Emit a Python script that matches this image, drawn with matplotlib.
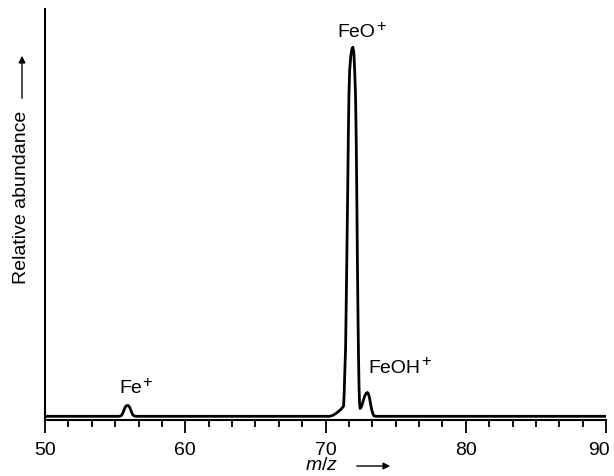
import matplotlib
matplotlib.use("Agg")
import matplotlib.pyplot as plt
from matplotlib.ticker import MultipleLocator
from matplotlib.transforms import ScaledTranslation

plt.rcParams['font.family'] = ['Liberation Sans', 'DejaVu Sans']
plt.rcParams['mathtext.fontset'] = 'custom'
plt.rcParams['mathtext.rm'] = 'Liberation Sans'
plt.rcParams['mathtext.it'] = 'Liberation Sans:italic'

# spectrum (m/z, relative abundance on a 0-100 axis)
mz = [50.0, 55.3, 55.45, 55.55, 55.65, 55.75, 55.85, 55.95, 56.05, 56.15, 56.25, 56.35, 56.5,
      70.3, 70.5, 70.7, 70.9, 71.1, 71.2, 71.29, 71.33, 71.37, 71.43, 71.48, 71.53, 71.59,
      71.63, 71.67, 71.72, 71.8, 71.88, 71.95, 72.02, 72.08, 72.14, 72.19, 72.23, 72.27,
      72.31, 72.35, 72.39, 72.43, 72.47, 72.52, 72.6, 72.7, 72.8, 72.9, 72.98, 73.06,
      73.14, 73.22, 73.3, 73.38, 73.46, 73.6, 90.0]
abund = [0.9, 0.9, 1.1, 1.7, 2.6, 3.3, 3.55, 3.5, 3.0, 2.1, 1.3, 1.0, 0.9,
         0.9, 1.1, 1.5, 2.0, 2.6, 3.0, 3.4, 6.5, 11.0, 17.3, 29.0, 42.0, 58.0,
         70.0, 79.0, 85.0, 88.5, 90.2, 90.7, 89.5, 85.0, 79.0, 68.0, 55.0, 40.0,
         27.0, 16.0, 8.0, 3.8, 2.8, 3.0, 3.6, 4.8, 5.9, 6.5, 6.7, 6.4,
         5.3, 3.8, 2.4, 1.5, 1.0, 0.9, 0.9]

labels = ['Fe', 'FeO', 'FeOH']
label_x = [55.29, 72.2, 73.07]
label_y = [6.8, 93.4, 11.7]
label_ha = ['left', 'center', 'left']

fig = plt.figure(figsize=(6.14, 4.77), dpi=100)
ax = fig.add_axes([0.0733, 0.1174, 0.9137, 0.8616])

ax.plot(mz, abund, color='black', lw=2.0, solid_joinstyle='round')

for t, x, y, ha in zip(labels, label_x, label_y, label_ha):
    txt = ax.text(x, y, t, fontsize=14, ha=ha, va='baseline')
    # superscript charge sign
    ax.annotate('+', xy=(1, 1), xycoords=txt, xytext=(0.5, -1.5),
                textcoords='offset points', fontsize=12, ha='left', va='center')

ax.set_xlim(50, 90)
ax.set_ylim(0, 100)
ax.set_xticks([50, 60, 70, 80, 90])
ax.xaxis.set_minor_locator(MultipleLocator(10 / 6))
ax.set_yticks([])
ax.tick_params(axis='x', which='major', length=9, width=1.3, labelsize=14, pad=6)
ax.tick_params(axis='x', which='minor', length=5, width=1.3)
for s in ['top', 'right']:
    ax.spines[s].set_visible(False)
for s in ['left', 'bottom']:
    ax.spines[s].set_linewidth(1.5)

# keep the last tick label inside the figure
last = ax.get_xticklabels()[-1]
last.set_transform(last.get_transform() + ScaledTranslation(-5 / 72, 0, fig.dpi_scale_trans))

# axis titles with arrows
fig.text(22, 280, 'Relative abundance', transform=None, rotation=90,
         fontsize=14, ha='center', va='center')
ax.annotate('', xy=(22, 423), xytext=(22, 375), xycoords='figure pixels',
            textcoords='figure pixels',
            arrowprops=dict(arrowstyle='-|>', color='black', lw=1, mutation_scale=10))
fig.text(322, 11, '$m/z$', transform=None, fontsize=14, ha='center', va='center')
ax.annotate('', xy=(393, 10), xytext=(354, 10), xycoords='figure pixels',
            textcoords='figure pixels',
            arrowprops=dict(arrowstyle='-|>', color='black', lw=1, mutation_scale=10))

fig.savefig('out.png', dpi=100)
